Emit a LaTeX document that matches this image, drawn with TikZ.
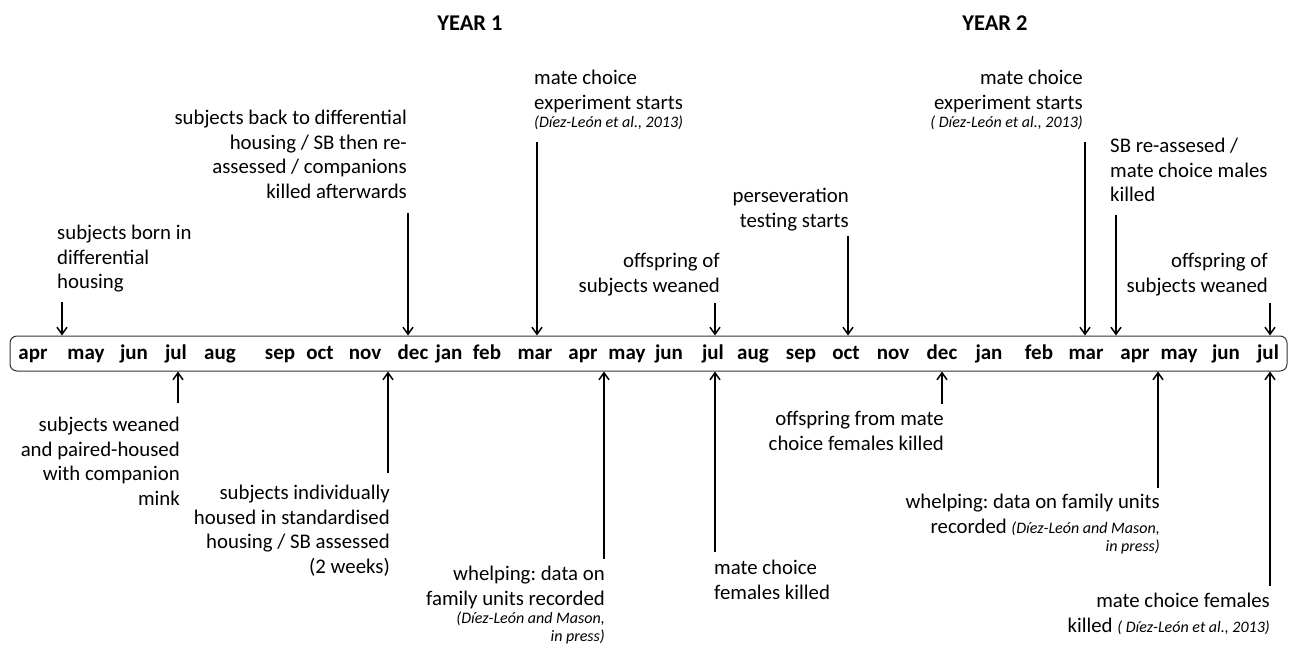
\documentclass[tikz,border=0pt]{standalone}
\usepackage{fontspec}
\setmainfont{Carlito}
\usetikzlibrary{arrows.meta}
\frenchspacing
\newcommand{\cit}[1]{{\fontsize{16}{19}\selectfont\itshape #1}}
\tikzset{
  lbl/.style={font=\fontsize{20.8}{24.5}\selectfont, inner sep=0pt},
  lblr/.style={lbl, align=right},
  lbll/.style={lbl, align=left},
  mon/.style={font=\fontsize{21}{24}\selectfont\bfseries, inner sep=0pt, anchor=base},
  ttl/.style={font=\fontsize{22.5}{26}\selectfont\bfseries, inner sep=0pt, anchor=base},
  arr/.style={line width=1.8pt, -{Straight Barb[length=7pt,width=10pt,line width=1.5pt]}},
}
\begin{document}
\begin{tikzpicture}[x=1pt,y=-1pt]
\useasboundingbox (0,0) rectangle (1290,648);
% titles
\node[ttl] (y1) at (470,30) {YEAR 1};
\node[ttl] (y2) at (995,30) {YEAR 2};
% timeline bar
\node[draw=black!80, rounded corners=7pt, line width=1pt, minimum width=1277pt, minimum height=35pt, inner sep=0pt] (bar) at (648.5,353.5) {};
% months
\foreach \i/\x/\m in {1/33/apr,2/86/may,3/134/jun,4/176/jul,5/220/aug,6/280/sep,7/320/oct,8/365/nov,9/413/dec,10/449/jan,11/487/feb,12/535/mar,13/583/apr,14/627/may,15/669/jun,16/713/jul,17/753/aug,18/801/sep,19/846/oct,20/893/nov,21/942/dec,22/989/jan,23/1039/feb,24/1086/mar,25/1135/apr,26/1179/may,27/1226/jun,28/1268/jul}
  \node[mon] (m\i) at (\x,359.5) {\m};
% top labels
\node[lbll, anchor=north west] (t1) at (57,225) {subjects born in\\differential\\housing};
\node[lblr, anchor=north east] (t2) at (407,110) {subjects back to differential\\housing / SB then re-\\assessed / companions\\killed afterwards};
\node[lbll, anchor=north west] (t3) at (534,70) {mate choice\\experiment starts\\[-6pt]\cit{(Díez-León et al., 2013)}};
\node[lblr, anchor=north east] (t4) at (720,253) {offspring of\\subjects weaned};
\node[lblr, anchor=north east] (t5) at (849,188) {perseveration\\testing starts};
\node[lblr, anchor=north east] (t6) at (1083,70) {mate choice\\experiment starts\\[-6pt]\cit{( Díez-León et al., 2013)}};
\node[lbll, anchor=north west] (t7) at (1110,138) {SB re-assesed /\\mate choice males\\killed};
\node[lblr, anchor=north east] (t8) at (1268,253) {offspring of\\subjects weaned};
% top arrow starts
\coordinate (a1) at (62,302);
\coordinate (a2) at (408,213);
\coordinate (a3) at (537,142);
\coordinate (a4) at (715,303);
\coordinate (a5) at (848,236);
\coordinate (a6) at (1085,142);
\coordinate (a7) at (1116,215);
\coordinate (a8) at (1270,303);
\foreach \a in {a1,a2,a3,a4,a5,a6,a7,a8}
  \draw[arr] (\a) -- (\a |- bar.north);
% bottom labels
\node[lblr, anchor=north east] (b1) at (180,417) {subjects weaned\\and paired-housed\\with companion\\mink};
\node[lblr, anchor=north east] (b2) at (390,485) {subjects individually\\housed in standardised\\housing / SB assessed\\(2 weeks)};
\node[lblr, anchor=north east] (b3) at (605,566) {whelping: data on\\family units recorded\\[-6pt]\cit{(Díez-León and Mason,}\\[-7pt]\cit{in press)}};
\node[lbll, anchor=north west] (b4) at (714,560) {mate choice\\females killed};
\node[lblr, anchor=north east] (b5) at (944,411) {offspring from mate\\choice females killed};
\node[lblr, anchor=north east] (b6) at (1160,494) {whelping: data on family units\\recorded \cit{(Díez-León and Mason,}\\[-6pt]\cit{in press)}};
\node[lblr, anchor=north east] (b7) at (1270,593) {mate choice females\\killed \cit{( Díez-León et al., 2013)}};
% bottom arrow ends
\coordinate (c1) at (178,403);
\coordinate (c2) at (388,473);
\coordinate (c3) at (604,559);
\coordinate (c4) at (715,552);
\coordinate (c5) at (942,404);
\coordinate (c6) at (1158,488);
\coordinate (c7) at (1270,586);
\foreach \c in {c1,c2,c3,c4,c5,c6,c7}
  \draw[arr] (\c) -- (\c |- bar.south);
\end{tikzpicture}
\end{document}
